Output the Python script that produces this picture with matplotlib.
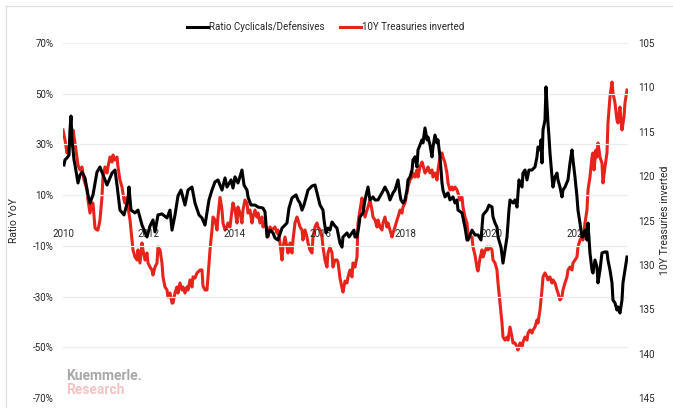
import matplotlib
matplotlib.use("Agg")
import matplotlib.pyplot as plt
from matplotlib.lines import Line2D

# Ratio Cyclicals/Defensives, YoY change in % (dates as decimal years)
black_dates = [
    2010.023, 2010.047, 2010.093, 2010.140, 2010.163, 2010.187, 2010.210, 2010.257, 2010.280, 2010.350,
    2010.397, 2010.443, 2010.513, 2010.583, 2010.630, 2010.700, 2010.793, 2010.863, 2011.027, 2011.144,
    2011.214, 2011.260, 2011.330, 2011.424, 2011.517, 2011.540, 2011.587, 2011.680, 2011.750, 2011.844,
    2011.960, 2012.030, 2012.100, 2012.147, 2012.217, 2012.310, 2012.427, 2012.497, 2012.544, 2012.614,
    2012.684, 2012.754, 2012.847, 2012.917, 2013.010, 2013.080, 2013.174, 2013.244, 2013.314, 2013.407,
    2013.477, 2013.547, 2013.617, 2013.664, 2013.711, 2013.781, 2013.827, 2013.921, 2013.967, 2014.014,
    2014.084, 2014.177, 2014.224, 2014.294, 2014.317, 2014.387, 2014.481, 2014.551, 2014.667, 2014.714,
    2014.761, 2014.831, 2014.901, 2014.947, 2015.017, 2015.111, 2015.227, 2015.274, 2015.344, 2015.438,
    2015.484, 2015.531, 2015.578, 2015.624, 2015.718, 2015.811, 2015.881, 2015.928, 2015.998, 2016.068,
    2016.091, 2016.138, 2016.184, 2016.231, 2016.278, 2016.348, 2016.394, 2016.464, 2016.511, 2016.534,
    2016.628, 2016.674, 2016.744, 2016.791, 2016.814, 2016.861, 2016.908, 2016.931, 2017.001, 2017.048,
    2017.118, 2017.164, 2017.234, 2017.281, 2017.351, 2017.444, 2017.514, 2017.584, 2017.631, 2017.701,
    2017.748, 2017.818, 2017.865, 2017.888, 2017.935, 2017.981, 2018.028, 2018.051, 2018.098, 2018.145,
    2018.168, 2018.215, 2018.261, 2018.285, 2018.331, 2018.378, 2018.401, 2018.448, 2018.495, 2018.518,
    2018.565, 2018.611, 2018.635, 2018.681, 2018.728, 2018.751, 2018.798, 2018.845, 2018.868, 2018.915,
    2018.985, 2019.031, 2019.101, 2019.148, 2019.195, 2019.218, 2019.311, 2019.381, 2019.428, 2019.452,
    2019.545, 2019.615, 2019.685, 2019.755, 2019.802, 2019.895, 2019.942, 2020.012, 2020.035, 2020.082,
    2020.128, 2020.152, 2020.222, 2020.268, 2020.315, 2020.362, 2020.408, 2020.432, 2020.502, 2020.548,
    2020.595, 2020.642, 2020.665, 2020.712, 2020.735, 2020.782, 2020.828, 2020.875, 2020.945, 2021.015,
    2021.062, 2021.085, 2021.132, 2021.155, 2021.178, 2021.202, 2021.248, 2021.272, 2021.318, 2021.342,
    2021.365, 2021.412, 2021.435, 2021.482, 2021.528, 2021.552, 2021.598, 2021.645, 2021.668, 2021.715,
    2021.785, 2021.832, 2021.878, 2021.902, 2021.948, 2021.995, 2022.018, 2022.065, 2022.112, 2022.135,
    2022.182, 2022.228, 2022.252, 2022.298, 2022.345, 2022.368, 2022.415, 2022.462, 2022.485, 2022.532,
    2022.578, 2022.648, 2022.695, 2022.718, 2022.765, 2022.812, 2022.835, 2022.882, 2022.928, 2022.952,
    2022.998, 2023.045, 2023.068, 2023.115, 2023.162,
]
black_values = [
    21.9, 23.9, 24.7, 25.8, 35.7, 41.2, 31.8, 23.9, 21.9, 14.8,
    17.9, 19.1, 16.8, 10.1, 6.9, 10.1, 19.1, 21.1, 14.0, 18.7,
    19.9, 14.0, 4.1, 2.2, 8.1, 13.2, 4.1, 3.0, 4.1, -1.8,
    -6.5, -2.2, 0.2, -4.5, 2.2, 2.6, 1.0, 4.1, -3.8, 2.2,
    9.7, 12.0, 6.1, 12.0, 13.2, 6.9, 2.2, 1.0, -1.8, 8.1,
    12.0, 15.2, 16.0, 14.0, 12.0, 16.8, 13.2, 16.0, 12.8, 17.2,
    14.8, 19.9, 14.0, 12.0, 9.3, 6.1, 6.1, 5.3, 4.9, 3.4,
    -6.5, -3.8, -4.9, -6.9, -7.7, -3.0, -1.0, 4.9, 8.9, 10.1,
    8.1, 6.9, 4.1, 6.1, 12.0, 13.6, 14.0, 10.9, 6.1, 4.1,
    0.2, -4.9, -3.0, -3.8, -0.6, -2.2, -3.0, -8.9, -10.5, -6.5,
    -4.9, -6.5, -4.9, -3.8, -6.5, -6.5, -1.8, 1.4, 3.0, 8.1,
    13.2, 8.1, 9.3, 8.1, 8.1, 10.9, 13.2, 10.9, 8.1, 10.9,
    12.0, 16.0, 10.1, 8.1, 6.9, 8.1, 12.0, 16.0, 17.2, 19.9,
    23.9, 25.1, 21.1, 27.8, 29.8, 31.8, 30.6, 36.5, 31.8, 32.9,
    29.8, 25.1, 29.0, 33.7, 30.6, 31.8, 25.1, 14.8, 12.0, 9.3,
    10.9, 8.1, 9.3, 6.9, 8.1, 4.1, 3.0, -2.6, -7.7, -7.7,
    -3.8, -5.7, -5.7, -7.7, 2.2, 4.1, 6.1, 5.3, 1.4, -1.0,
    -2.6, -6.5, -10.5, -16.8, -11.6, -6.5, 4.1, 8.1, 6.9, 8.1,
    5.3, 16.0, 14.8, 13.2, 18.7, 19.9, 16.0, 19.9, 19.9, 21.1,
    25.1, 29.0, 27.8, 31.8, 22.7, 35.7, 39.6, 52.7, 38.5, 32.9,
    26.6, 17.2, 13.2, 17.2, 18.7, 16.0, 13.2, 9.3, 12.0, 13.2,
    16.0, 22.7, 27.8, 23.9, 17.2, 9.3, 4.1, -1.0, -6.5, -6.5,
    -3.8, -7.7, -1.0, -12.8, -19.5, -20.7, -15.6, -18.3, -24.6, -19.5,
    -12.8, -12.4, -12.4, -15.6, -19.5, -24.6, -31.4, -32.5, -35.3, -34.1,
    -36.5, -31.4, -24.6, -19.5, -14.4,
]

# 10Y Treasuries (price, plotted on an inverted right axis)
red_dates = [
    2010.000, 2010.047, 2010.093, 2010.117, 2010.163, 2010.210, 2010.233, 2010.280, 2010.350, 2010.397,
    2010.443, 2010.490, 2010.513, 2010.560, 2010.583, 2010.630, 2010.677, 2010.700, 2010.747, 2010.793,
    2010.817, 2010.863, 2010.910, 2010.933, 2010.980, 2011.027, 2011.050, 2011.097, 2011.144, 2011.167,
    2011.214, 2011.260, 2011.284, 2011.330, 2011.377, 2011.424, 2011.447, 2011.494, 2011.517, 2011.564,
    2011.610, 2011.634, 2011.680, 2011.727, 2011.750, 2011.797, 2011.844, 2011.867, 2011.914, 2011.960,
    2011.984, 2012.030, 2012.077, 2012.100, 2012.147, 2012.194, 2012.217, 2012.264, 2012.310, 2012.334,
    2012.380, 2012.427, 2012.450, 2012.497, 2012.544, 2012.567, 2012.614, 2012.660, 2012.684, 2012.730,
    2012.777, 2012.800, 2012.847, 2012.894, 2012.917, 2012.964, 2013.010, 2013.034, 2013.080, 2013.127,
    2013.150, 2013.197, 2013.244, 2013.267, 2013.314, 2013.360, 2013.384, 2013.431, 2013.477, 2013.501,
    2013.547, 2013.594, 2013.617, 2013.664, 2013.711, 2013.734, 2013.781, 2013.827, 2013.851, 2013.897,
    2013.944, 2013.967, 2014.014, 2014.061, 2014.084, 2014.131, 2014.177, 2014.201, 2014.247, 2014.294,
    2014.317, 2014.364, 2014.411, 2014.434, 2014.481, 2014.527, 2014.551, 2014.597, 2014.644, 2014.667,
    2014.714, 2014.761, 2014.784, 2014.831, 2014.877, 2014.947, 2014.994, 2015.017, 2015.064, 2015.111,
    2015.134, 2015.181, 2015.227, 2015.251, 2015.297, 2015.344, 2015.368, 2015.414, 2015.461, 2015.484,
    2015.531, 2015.578, 2015.601, 2015.648, 2015.694, 2015.718, 2015.764, 2015.811, 2015.834, 2015.881,
    2015.928, 2015.951, 2015.998, 2016.044, 2016.068, 2016.114, 2016.161, 2016.184, 2016.231, 2016.278,
    2016.301, 2016.348, 2016.394, 2016.418, 2016.464, 2016.511, 2016.534, 2016.581, 2016.628, 2016.651,
    2016.698, 2016.744, 2016.768, 2016.814, 2016.861, 2016.884, 2016.931, 2016.978, 2017.001, 2017.048,
    2017.094, 2017.118, 2017.164, 2017.211, 2017.234, 2017.281, 2017.328, 2017.351, 2017.398, 2017.444,
    2017.468, 2017.514, 2017.561, 2017.584, 2017.631, 2017.678, 2017.701, 2017.748, 2017.795, 2017.818,
    2017.865, 2017.911, 2017.935, 2017.981, 2018.028, 2018.051, 2018.098, 2018.145, 2018.168, 2018.215,
    2018.261, 2018.285, 2018.331, 2018.378, 2018.401, 2018.448, 2018.495, 2018.518, 2018.565, 2018.611,
    2018.635, 2018.681, 2018.728, 2018.751, 2018.798, 2018.845, 2018.868, 2018.915, 2018.961, 2018.985,
    2019.031, 2019.078, 2019.101, 2019.148, 2019.195, 2019.218, 2019.265, 2019.311, 2019.335, 2019.381,
    2019.428, 2019.452, 2019.498, 2019.545, 2019.568, 2019.615, 2019.662, 2019.685, 2019.732, 2019.778,
    2019.802, 2019.848, 2019.895, 2019.918, 2019.965, 2020.012, 2020.035, 2020.082, 2020.128, 2020.152,
    2020.198, 2020.245, 2020.268, 2020.315, 2020.362, 2020.385, 2020.432, 2020.478, 2020.502, 2020.548,
    2020.595, 2020.618, 2020.665, 2020.712, 2020.735, 2020.782, 2020.828, 2020.852, 2020.898, 2020.945,
    2020.968, 2021.015, 2021.062, 2021.085, 2021.132, 2021.178, 2021.202, 2021.248, 2021.295, 2021.318,
    2021.365, 2021.412, 2021.435, 2021.482, 2021.528, 2021.552, 2021.598, 2021.645, 2021.668, 2021.715,
    2021.762, 2021.785, 2021.832, 2021.878, 2021.902, 2021.948, 2021.995, 2022.018, 2022.065, 2022.112,
    2022.135, 2022.182, 2022.228, 2022.252, 2022.298, 2022.345, 2022.368, 2022.392, 2022.438, 2022.462,
    2022.485, 2022.532, 2022.578, 2022.602, 2022.648, 2022.695, 2022.718, 2022.765, 2022.812, 2022.835,
    2022.882, 2022.928, 2022.952, 2022.998, 2023.022, 2023.045, 2023.092, 2023.115, 2023.162,
]
red_values = [
    114.80, 115.93, 117.39, 117.06, 116.27, 115.59, 114.80, 116.27, 118.75, 119.31,
    118.97, 120.44, 120.77, 121.56, 122.69, 124.16, 123.03, 123.03, 125.85, 126.07,
    126.07, 124.94, 122.35, 120.10, 118.97, 119.65, 118.97, 117.85, 118.41, 117.62,
    118.18, 117.85, 118.97, 120.44, 121.23, 122.69, 123.03, 122.35, 123.48, 124.94,
    127.20, 128.32, 129.11, 129.45, 128.32, 129.79, 127.53, 128.32, 129.45, 128.66,
    129.79, 130.24, 130.58, 131.14, 130.24, 129.79, 127.99, 128.32, 129.79, 131.36,
    132.49, 132.83, 133.62, 133.17, 134.30, 134.30, 133.17, 132.49, 133.17, 132.04,
    132.83, 132.49, 133.17, 132.49, 132.83, 131.70, 132.49, 131.36, 131.48, 130.91,
    130.80, 130.58, 130.58, 132.38, 132.83, 132.83, 131.36, 128.32, 126.07, 124.61,
    124.94, 126.07, 124.61, 122.35, 123.82, 125.28, 126.07, 125.73, 125.28, 125.73,
    123.82, 123.03, 123.82, 125.28, 123.48, 124.16, 125.28, 123.82, 122.69, 123.03,
    124.16, 123.82, 125.28, 124.61, 123.82, 124.61, 124.16, 125.28, 124.61, 125.73,
    125.28, 126.07, 126.86, 125.73, 126.07, 125.73, 126.41, 126.07, 127.53, 129.45,
    127.99, 126.86, 127.99, 128.66, 127.53, 128.66, 127.20, 125.28, 124.61, 124.94,
    125.73, 126.07, 127.20, 126.07, 126.86, 127.53, 128.32, 128.66, 126.86, 125.73,
    125.28, 125.73, 126.07, 126.86, 127.99, 129.45, 130.24, 128.66, 127.99, 128.66,
    130.24, 129.45, 129.45, 129.68, 131.48, 132.60, 133.06, 131.82, 132.04, 131.36,
    130.58, 131.36, 129.79, 130.24, 129.11, 125.28, 123.82, 122.46, 123.48, 124.61,
    123.82, 123.48, 122.69, 123.82, 124.61, 124.94, 125.73, 124.94, 125.73, 126.07,
    125.28, 124.61, 125.73, 125.28, 126.07, 126.86, 126.41, 125.73, 124.94, 124.61,
    123.82, 124.16, 123.48, 123.03, 121.90, 121.23, 120.44, 120.10, 119.65, 120.10,
    119.31, 120.10, 118.97, 118.41, 118.75, 119.65, 119.31, 118.97, 119.65, 119.31,
    120.10, 119.65, 120.44, 119.31, 117.85, 117.39, 117.85, 118.52, 119.65, 120.77,
    121.56, 121.23, 121.56, 121.23, 121.56, 121.90, 122.69, 122.35, 123.48, 124.61,
    125.28, 126.41, 126.86, 126.86, 127.99, 128.89, 130.35, 130.69, 129.23, 128.32,
    129.11, 128.44, 127.99, 128.32, 127.99, 128.32, 129.45, 129.79, 130.58, 132.04,
    134.30, 136.55, 138.13, 138.47, 138.13, 138.47, 137.00, 138.13, 138.80, 138.80,
    139.25, 139.59, 138.80, 139.25, 138.69, 138.13, 138.47, 137.68, 137.34, 137.68,
    137.34, 137.00, 136.21, 136.55, 135.08, 132.83, 131.36, 130.91, 131.36, 131.70,
    131.36, 132.04, 131.70, 132.04, 132.83, 133.17, 133.96, 133.62, 132.83, 132.04,
    131.36, 130.58, 130.24, 130.58, 129.79, 129.45, 129.11, 127.99, 127.20, 126.86,
    127.20, 125.28, 123.82, 121.56, 120.10, 117.85, 117.39, 119.31, 117.06, 117.85,
    116.27, 117.85, 118.52, 120.77, 118.97, 117.39, 114.01, 111.08, 109.40, 110.63,
    111.76, 113.68, 114.01, 112.21, 113.68, 114.80, 113.34, 111.76, 110.30,
]

left_ticks = [70, 50, 30, 10, -10, -30, -50, -70]
right_ticks = [105, 110, 115, 120, 125, 130, 135, 140, 145]
year_ticks = [2010, 2012, 2014, 2016, 2018, 2020, 2022]

series_names = ["Ratio Cyclicals/Defensives", "10Y Treasuries inverted"]
black_color = "#000000"
red_color = "#E8231B"
label_color = "#262626"
grid_color = "#EDEDED"

plt.rcParams["font.family"] = ["Roboto", "DejaVu Sans"]

fig = plt.figure(figsize=(6.73, 4.08), dpi=100)
ax = fig.add_axes([0.0936, 0.0245, 0.8395, 0.8701])
ax2 = ax.twinx()

# Left axis: YoY ratio, gridlines at each tick
ax.set_ylim(-70, 70)
ax.set_yticks(left_ticks)
ax.set_yticklabels([f"{t}%" for t in left_ticks])
ax.set_xlim(2010.0, 2023.185)
ax.set_xticks(year_ticks)
ax.set_xticklabels([str(y) for y in year_ticks])
ax.grid(axis="y", color=grid_color, linewidth=0.9)
ax.set_axisbelow(True)
ax.spines["bottom"].set_position(("data", 0))
for s in ax.spines.values():
    s.set_visible(False)
ax.tick_params(axis="both", length=0, labelsize=7, labelcolor=label_color)
ax.tick_params(axis="y", pad=7)
ax.tick_params(axis="x", pad=6)
ax.set_ylabel("Ratio YoY", fontsize=7.5, color=label_color, labelpad=10)

# Right axis: inverted treasury price
ax2.set_ylim(145, 105)
ax2.set_yticks(right_ticks)
ax2.set_yticklabels([str(t) for t in right_ticks])
for s in ax2.spines.values():
    s.set_visible(False)
ax2.tick_params(axis="y", length=0, labelsize=7, labelcolor=label_color, pad=7)
ax2.set_ylabel("10Y Treasuries inverted", fontsize=7.5, color=label_color,
               rotation=90, labelpad=4)

ax2.plot(red_dates, red_values, color=red_color, linewidth=2.2, solid_joinstyle="round")
ax.plot(black_dates, black_values, color=black_color, linewidth=2.2, solid_joinstyle="round")
ax.set_zorder(ax2.get_zorder() + 1)
ax.patch.set_visible(False)

# Legend across the top
handles = [Line2D([], [], color=black_color, linewidth=2.2),
           Line2D([], [], color=red_color, linewidth=2.2)]
fig.legend(handles, series_names, loc="center", bbox_to_anchor=(0.484, 0.934),
           ncol=2, frameon=False, fontsize=7, handlelength=2.2, handletextpad=0.1,
           columnspacing=1.6, labelcolor=label_color)

# Brand mark in the lower left
fig.text(0.098, 0.068, "Kuemmerle.", fontsize=10, fontweight="bold", color="#A8A8A8")
fig.text(0.098, 0.035, "Research", fontsize=10, fontweight="bold", color="#F3C4C4")

# Thin frame along the top and left edges
fig.add_artist(Line2D([6 / 673, 1.0], [1 - 6 / 408, 1 - 6 / 408], transform=fig.transFigure,
                      color="#DDDDDD", linewidth=0.9))
fig.add_artist(Line2D([6 / 673, 6 / 673], [0.0, 1 - 6 / 408], transform=fig.transFigure,
                      color="#DDDDDD", linewidth=0.9))

fig.savefig("out.png", dpi=100)
